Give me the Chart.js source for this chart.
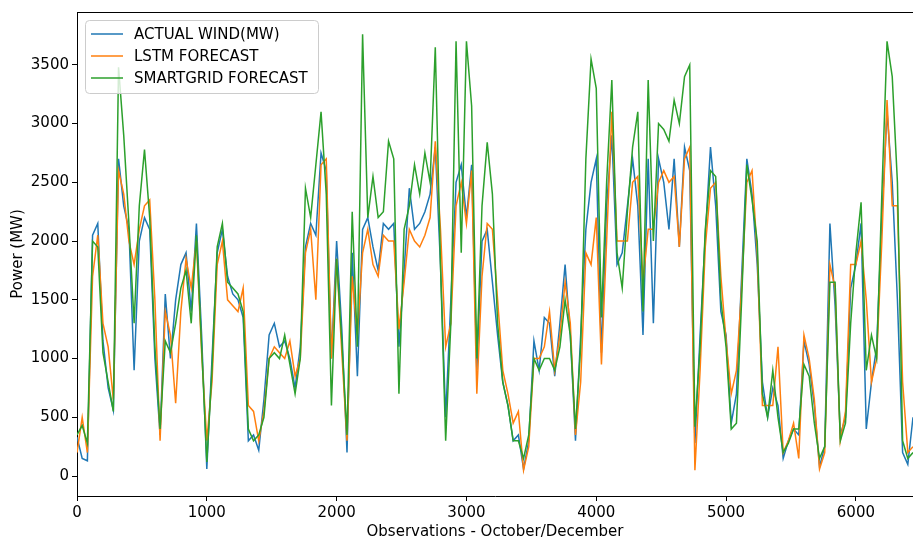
<!DOCTYPE html>
<html>
<head>
<meta charset="utf-8">
<script src="https://cdn.jsdelivr.net/npm/chart.js@4.4.0/dist/chart.umd.min.js"></script>
<style>
html, body { margin: 0; padding: 0; background: #fff; }
#wrap { width: 913px; height: 541px; }
</style>
</head>
<body>
<div id="wrap"><canvas id="windChart" width="913" height="541"></canvas></div>
<script>
// observation index (x), read every 40 observations
const observations = [
  0, 40, 80, 120, 160, 200, 240, 280, 320, 360, 400, 440, 480, 520, 560, 600, 640, 680, 720, 760,
  800, 840, 880, 920, 960, 1000, 1040, 1080, 1120, 1160, 1200, 1240, 1280, 1320, 1360, 1400, 1440, 1480, 1520, 1560,
  1600, 1640, 1680, 1720, 1760, 1800, 1840, 1880, 1920, 1960, 2000, 2040, 2080, 2120, 2160, 2200, 2240, 2280, 2320, 2360,
  2400, 2440, 2480, 2520, 2560, 2600, 2640, 2680, 2720, 2760, 2800, 2840, 2880, 2920, 2960, 3000, 3040, 3080, 3120, 3160,
  3200, 3240, 3280, 3320, 3360, 3400, 3440, 3480, 3520, 3560, 3600, 3640, 3680, 3720, 3760, 3800, 3840, 3880, 3920, 3960,
  4000, 4040, 4080, 4120, 4160, 4200, 4240, 4280, 4320, 4360, 4400, 4440, 4480, 4520, 4560, 4600, 4640, 4680, 4720, 4760,
  4800, 4840, 4880, 4920, 4960, 5000, 5040, 5080, 5120, 5160, 5200, 5240, 5280, 5320, 5360, 5400, 5440, 5480, 5520, 5560,
  5600, 5640, 5680, 5720, 5760, 5800, 5840, 5880, 5920, 5960, 6000, 6040, 6080, 6120, 6160, 6200, 6240, 6280, 6320, 6360,
  6400, 6440
];

const actualWind = [
  330, 150, 130, 2050, 2150, 1150, 750, 560, 2700, 2300, 2100, 900, 2000, 2200, 2100, 1000, 350, 1550, 1000, 1500,
  1800, 1900, 1400, 2150, 1200, 60, 1000, 1900, 2100, 1700, 1550, 1500, 1350, 300, 350, 220, 650, 1200, 1300, 1100,
  1150, 1000, 750, 1100, 1950, 2150, 2050, 2750, 2600, 1000, 2000, 1250, 200, 1900, 850, 2100, 2200, 1950, 1750, 2150,
  2100, 2150, 1100, 1750, 2450, 2100, 2150, 2250, 2400, 2800, 1800, 500, 1500, 2500, 2650, 2200, 2650, 900, 2000, 2100,
  1650, 1200, 800, 600, 300, 350, 60, 300, 1150, 900, 1350, 1300, 850, 1300, 1800, 1200, 300, 1200, 2100, 2500,
  2700, 1050, 2300, 2900, 1800, 1900, 2300, 2700, 2300, 1200, 2700, 1300, 2700, 2500, 2100, 2700, 1950, 2800, 2600, 280,
  1200, 2050, 2800, 2300, 1400, 1200, 450, 700, 1700, 2700, 2400, 1800, 800, 500, 750, 600, 150, 300, 400, 350,
  1150, 950, 600, 80, 250, 2150, 1450, 350, 500, 1600, 1800, 2150, 400, 800, 1100, 2200, 3100, 2500, 1500, 200,
  100, 500
];

const lstmForecast = [
  200, 500, 200, 1700, 2050, 1300, 1100, 650, 2600, 2400, 2000, 1800, 2100, 2300, 2350, 1500, 300, 1400, 1200, 620,
  1400, 1850, 1600, 2000, 1050, 300, 800, 1800, 2000, 1500, 1450, 1400, 1600, 600, 550, 300, 550, 1000, 1100, 1050,
  1000, 1150, 850, 1000, 1900, 2100, 1500, 2650, 2700, 1000, 1850, 1050, 300, 1700, 1200, 1900, 2100, 1800, 1700, 2050,
  2000, 2000, 1250, 1650, 2100, 2000, 1950, 2050, 2200, 2850, 2100, 1100, 1300, 2300, 2500, 2150, 2600, 700, 1700, 2150,
  2100, 1500, 900, 700, 450, 550, 50, 250, 1000, 1000, 1100, 1400, 900, 1200, 1650, 1300, 350, 800, 1900, 1800,
  2200, 950, 2000, 3100, 2000, 2000, 2000, 2500, 2550, 1650, 2100, 2100, 2500, 2600, 2500, 2550, 1950, 2700, 2800, 50,
  900, 1950, 2450, 2500, 1700, 1150, 700, 900, 1600, 2500, 2600, 1900, 600, 600, 600, 1100, 200, 300, 450, 150,
  1200, 1000, 650, 60, 200, 1800, 1600, 300, 550, 1800, 1800, 2000, 1500, 800, 1000, 2000, 3200, 2300, 2300, 800,
  200, 250
];

const smartgridForecast = [
  350, 430, 280, 2000, 1950, 1050, 800, 550, 3480, 2900, 2150, 1300, 2300, 2780, 2200, 1100, 400, 1150, 1050, 1300,
  1600, 1750, 1300, 2050, 1100, 120, 900, 1950, 2150, 1650, 1600, 1550, 1400, 400, 300, 350, 500, 1000, 1050, 1000,
  1200, 950, 700, 1000, 2450, 2200, 2650, 3100, 2400, 600, 1850, 1150, 350, 2250, 1100, 3760, 2200, 2550, 2200, 2250,
  2850, 2700, 700, 2100, 2300, 2650, 2400, 2750, 2500, 3650, 1800, 300, 1300, 3700, 1900, 3700, 3150, 1000, 2300, 2840,
  2400, 1300, 800, 600, 300, 300, 150, 350, 1000, 900, 1000, 1000, 900, 1100, 1500, 1200, 400, 1100, 2700, 3550,
  3300, 1350, 2500, 3370, 1900, 1600, 2250, 2800, 3100, 1400, 3370, 2000, 3000, 2950, 2850, 3200, 3000, 3400, 3500, 420,
  1100, 2100, 2600, 2550, 1500, 1100, 400, 450, 1500, 2650, 2350, 2000, 700, 500, 900, 500, 200, 280, 400, 400,
  950, 850, 450, 150, 250, 1650, 1650, 300, 450, 1300, 1900, 2330, 900, 1200, 1000, 2400, 3700, 3400, 2500, 300,
  150, 200
];

const seriesLabels = ['ACTUAL WIND(MW)', 'LSTM FORECAST', 'SMARTGRID FORECAST'];
const seriesColors = ['#1f77b4', '#ff7f0e', '#2ca02c'];
const yTicks = [0, 500, 1000, 1500, 2000, 2500, 3000, 3500];
const xTicks = [0, 1000, 2000, 3000, 4000, 5000, 6000];

const FONT = "'DejaVu Sans', sans-serif";

function toPoints(values) {
    return observations.map((x, i) => ({ x: x, y: values[i] }));
}

// frame top line + legend box inside the plot, like matplotlib
const framePlugin = {
    id: 'frame',
    afterDraw(chart) {
        const ctx = chart.ctx;
        const area = chart.chartArea;
        ctx.save();
        ctx.strokeStyle = '#000';
        ctx.lineWidth = 1;
        ctx.beginPath();
        ctx.moveTo(area.left, area.top + 0.5);
        ctx.lineTo(area.right, area.top + 0.5);
        ctx.stroke();

        // legend
        const bx = 85.5, by = 20.5, bw = 233, bh = 73;
        ctx.beginPath();
        ctx.roundRect(bx, by, bw, bh, 4);
        ctx.fillStyle = 'rgba(255,255,255,0.8)';
        ctx.fill();
        ctx.strokeStyle = '#cccccc';
        ctx.stroke();

        ctx.font = '15px ' + FONT;
        ctx.textBaseline = 'middle';
        ctx.textAlign = 'left';
        chart.data.datasets.forEach((ds, i) => {
            const y = 34 + 22 * i;
            ctx.strokeStyle = ds.borderColor;
            ctx.lineWidth = 1.5;
            ctx.beginPath();
            ctx.moveTo(91, y);
            ctx.lineTo(123, y);
            ctx.stroke();
            ctx.fillStyle = '#000';
            ctx.fillText(ds.label, 134, y + 1);
        });
        ctx.restore();
    }
};

const ctx = document.getElementById('windChart').getContext('2d');
const windChart = new Chart(ctx, {
    type: 'line',
    data: {
        datasets: [
            { label: seriesLabels[0], data: toPoints(actualWind), borderColor: seriesColors[0], order: 3 },
            { label: seriesLabels[1], data: toPoints(lstmForecast), borderColor: seriesColors[1], order: 2 },
            { label: seriesLabels[2], data: toPoints(smartgridForecast), borderColor: seriesColors[2], order: 1 }
        ]
    },
    options: {
        responsive: false,
        animation: false,
        layout: { padding: { top: 12, right: 0, left: 0, bottom: 0 } },
        elements: {
            line: { borderWidth: 1.5, tension: 0, fill: false },
            point: { radius: 0 }
        },
        plugins: {
            legend: { display: false },
            tooltip: { enabled: false }
        },
        scales: {
            x: {
                type: 'linear',
                min: 0,
                max: 6440,
                afterBuildTicks: (scale) => { scale.ticks = xTicks.map(v => ({ value: v })); },
                afterFit: (scale) => { scale.height = 45; },
                grid: { drawOnChartArea: false, drawTicks: true, tickLength: 5, tickColor: '#000' },
                border: { display: true, color: '#000', width: 1 },
                ticks: {
                    color: '#000', font: { family: FONT, size: 15 }, padding: 3, maxRotation: 0,
                    callback: (v) => String(v)
                },
                title: {
                    display: true,
                    text: 'Observations - October/December',
                    color: '#000',
                    font: { family: FONT, size: 15 },
                    padding: { top: 0, bottom: 0 }
                }
            },
            y: {
                type: 'linear',
                min: -170,
                max: 3950,
                afterBuildTicks: (scale) => { scale.ticks = yTicks.map(v => ({ value: v })); },
                afterFit: (scale) => { scale.width = 77; },
                grid: { drawOnChartArea: false, drawTicks: true, tickLength: 5, tickColor: '#000' },
                border: { display: true, color: '#000', width: 1 },
                ticks: {
                    color: '#000', font: { family: FONT, size: 15 }, padding: 3,
                    callback: (v) => String(v)
                },
                title: {
                    display: true,
                    text: 'Power (MW)',
                    color: '#000',
                    font: { family: FONT, size: 15 },
                    padding: { top: 9, bottom: 0 }
                }
            }
        }
    },
    plugins: [framePlugin]
});
</script>
</body>
</html>
